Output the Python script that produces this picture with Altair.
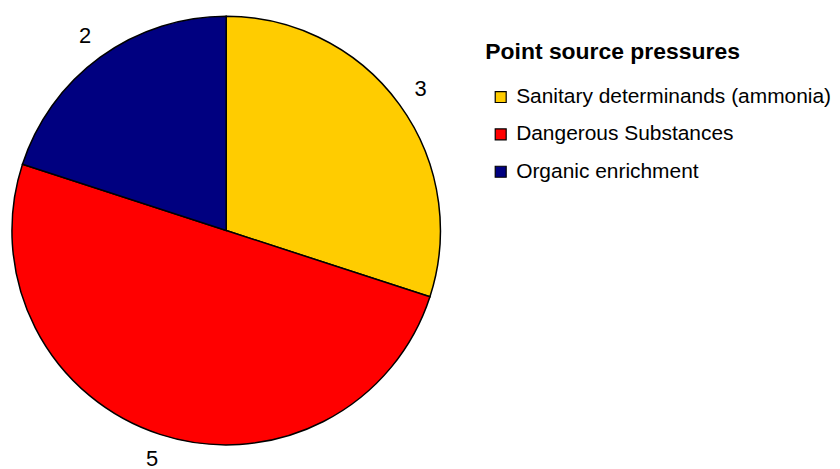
import altair as alt
import pandas as pd

categories = ["Sanitary determinands (ammonia)", "Dangerous Substances", "Organic enrichment"]
values = [3, 5, 2]
colors = ["#FFCC00", "#FF0000", "#000080"]
order = [0, 1, 2]

df = pd.DataFrame({"category": categories, "value": values, "order": order})

FONT = "Liberation Sans"

base = alt.Chart(df).encode(
    theta=alt.Theta("value:Q", stack=True),
    order=alt.Order("order:Q"),
)

pie = base.mark_arc(outerRadius=215, stroke="black", strokeWidth=1.5).encode(
    color=alt.Color(
        "category:N",
        sort=categories,
        scale=alt.Scale(domain=categories, range=colors),
        legend=alt.Legend(
            title="Point source pressures",
            orient="none",
            legendX=479,
            legendY=32,
            titleFont=FONT,
            titleFontSize=23,
            titleFontWeight="bold",
            titleColor="black",
            titlePadding=23,
            titleLimit=0,
            labelFont=FONT,
            labelFontSize=21,
            labelColor="black",
            labelLimit=0,
            labelOffset=5,
            symbolType="square",
            symbolSize=121,
            symbolStrokeColor="black",
            symbolStrokeWidth=1.2,
            symbolOffset=5,
            rowPadding=15.5,
            padding=0,
        ),
    )
)

labels = base.mark_text(radius=241, font=FONT, fontSize=22, color="black").encode(
    text=alt.Text("value:Q")
)

chart = (
    alt.layer(pie, labels)
    .properties(width=438, height=445, padding=0)
    .configure_view(stroke=None)
)

chart.save("out.html", embed_options={"renderer": "svg", "actions": False})
